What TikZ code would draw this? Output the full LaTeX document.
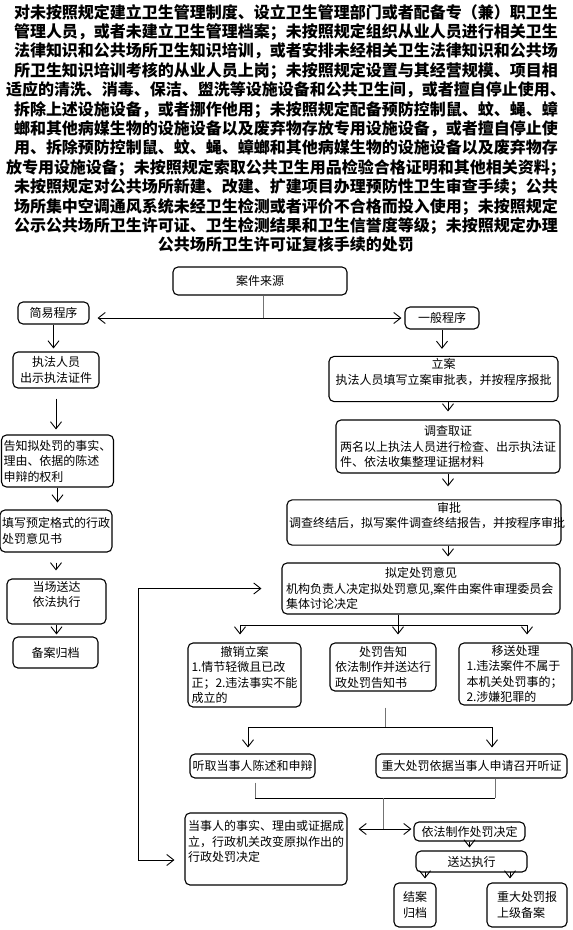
\documentclass[tikz,border=0pt]{standalone}
\usepackage{fontspec}
\usepackage{tikz}
\usetikzlibrary{arrows.meta}
\newfontfamily\cjk{Noto Sans CJK SC}
\newcommand{\ctrline}[1]{\makebox[\hsize][c]{#1}}

\begin{document}
\begin{tikzpicture}[
  x=1pt,y=-1pt,
  font=\cjk\fontsize{12}{15.5}\selectfont,
  >={Straight Barb[length=7pt,width=11pt]},
  box/.style={draw=black,line width=1.1pt,rounded corners=5pt,inner sep=2pt,align=left},
  lnk/.style={draw=black,line width=0.9pt},
  thinlnk/.style={draw=black!55,line width=0.7pt},
  ttl/.style={font=\cjk\bfseries\fontsize{16}{19.4}\selectfont,align=center,inner sep=0pt},
]
\useasboundingbox (0,0) rectangle (573,930);

\node[ttl,anchor=north] (title) at (286,4) {对未按照规定建立卫生管理制度、设立卫生管理部门或者配备专（兼）职卫生\\
管理人员，或者未建立卫生管理档案；未按照规定组织从业人员进行相关卫生\\
法律知识和公共场所卫生知识培训，或者安排未经相关卫生法律知识和公共场\\
所卫生知识培训考核的从业人员上岗；未按照规定设置与其经营规模、项目相\\
适应的清洗、消毒、保洁、盥洗等设施设备和公共卫生间，或者擅自停止使用、\\
拆除上述设施设备，或者挪作他用；未按照规定配备预防控制鼠、蚊、蝇、蟑\\
螂和其他病媒生物的设施设备以及废弃物存放专用设施设备，或者擅自停止使\\
用、拆除预防控制鼠、蚊、蝇、蟑螂和其他病媒生物的设施设备以及废弃物存\\
放专用设施设备；未按照规定索取公共卫生用品检验合格证明和其他相关资料；\\
未按照规定对公共场所新建、改建、扩建项目办理预防性卫生审查手续；公共\\
场所集中空调通风系统未经卫生检测或者评价不合格而投入使用；未按照规定\\
公示公共场所卫生许可证、卫生检测结果和卫生信誉度等级；未按照规定办理\\
公共场所卫生许可证复核手续的处罚};

\node[box,minimum width=174pt,minimum height=28pt,align=center] (src) at (260,281) {案件来源};
\node[box,minimum width=71pt,minimum height=22pt] (simple) at (53.5,313) {简易程序};
\node[box,minimum width=74pt,minimum height=22pt] (general) at (442,318) {一般程序};

\node[box,minimum width=86pt,minimum height=36pt,align=center] (show) at (56,370) {执法人员\\出示执法证件};
\node[box,minimum width=109pt,minimum height=52pt] (inform) at (57.5,461) {告知拟处罚的事实、\\理由、依据的陈述\\申辩的权利};
\node[box,minimum width=110pt,minimum height=42pt] (form) at (56,531) {填写预定格式的行政\\处罚意见书};
\node[box,minimum width=99pt,minimum height=43pt,align=center] (deliver) at (56.5,601.5) {当场送达\\依法执行\\\mbox{}};
\node[box,minimum width=85pt,minimum height=31pt] (filing) at (55.5,652.5) {备案归档};

\node[box,text width=216pt,minimum width=229pt,minimum height=42pt] (register) at (443.5,379) {\ctrline{立案}\\执法人员填写立案审批表，并按程序报批\\\mbox{}};
\node[box,text width=216pt,minimum width=224pt,minimum height=53pt] (survey) at (448,446.5) {\ctrline{调查取证}\\两名以上执法人员进行检查、出示执法证\\件、依法收集整理证据材料};
\node[box,text width=270pt,minimum width=274pt,minimum height=43pt] (approve) at (424,522.5) {\ctrline{\hspace{50pt}审批}\\调查终结后，拟写案件调查终结报告，并按程序审批\\\mbox{}};
\node[box,text width=270pt,minimum width=278pt,minimum height=51pt] (draft) at (421,588.5) {\ctrline{拟定处罚意见}\\机构负责人决定拟处罚意见,案件由案件审理委员会\\集体讨论决定};

\node[box,text width=106pt,minimum width=113pt,minimum height=64pt] (revoke) at (244.5,675) {\ctrline{撤销立案}\\1.情节轻微且已改\\正；2.违法事实不能\\成立的};
\node[box,text width=96pt,minimum width=106pt,minimum height=48pt] (notice) at (383,667) {\ctrline{处罚告知}\\依法制作并送达行\\政处罚告知书};
\node[box,text width=98pt,minimum width=113pt,minimum height=62pt] (transfer) at (515.5,674) {\ctrline{移送处理}\\1.违法案件不属于\\本机关处罚事的；\\2.涉嫌犯罪的};

\node[box,minimum width=125pt,minimum height=24pt] (hear) at (252.5,766) {听取当事人陈述和申辩};
\node[box,minimum width=191pt,minimum height=24pt] (hearing) at (471.5,766) {重大处罚依据当事人申请召开听证};
\node[box,minimum width=162pt,minimum height=72pt] (change) at (266,849) {当事人的事实、理由或证据成\\立，行政机关改变原拟作出的\\行政处罚决定\\\mbox{}};
\node[box,minimum width=111pt,minimum height=19pt] (decide) at (469.5,831.5) {依法制作处罚决定};
\node[box,minimum width=111pt,minimum height=21pt] (execute) at (471.5,861.5) {送达执行};
\node[box,minimum width=42pt,minimum height=44pt,align=center] (close) at (415,905) {结案\\归档};
\node[box,minimum width=80pt,minimum height=44pt] (report) at (527,905) {重大处罚报\\上级备案};

\coordinate (split) at (263,318);
\draw[thinlnk] (src.south -| split) -- (split);
\draw[lnk,->,shorten >=8pt] (split) -- (split -| simple.east);
\draw[lnk,->,shorten >=3pt] (split) -- (split -| general.west);

\draw[lnk,->,shorten >=3pt] (simple.south) -- (simple.south |- show.north);
\draw[lnk,->,shorten <=10pt,shorten >=5pt] (show.south) -- (show.south |- inform.north);
\draw[lnk,->,shorten >=7pt] (inform.south) -- (inform.south |- form.north);
\draw[lnk,->,shorten <=10pt,shorten >=8pt] (form.south) -- (form.south |- deliver.north);
\draw[lnk,->,shorten >=2pt] (deliver.south) -- (deliver.south |- filing.north);

\draw[lnk,->,shorten >=7pt] (general.south) -- (general.south |- register.north);
\draw[lnk,->,shorten >=8pt] (survey.north |- register.south) -- (survey.north);
\draw[lnk,->,shorten >=13pt] (survey.south) -- (survey.south |- approve.north);
\draw[lnk,->,shorten >=6pt] (survey.south |- approve.south) -- (survey.south |- draft.north);

\coordinate (fanL) at (240,625);
\coordinate (fanM) at (398,625);
\coordinate (fanR) at (527,625);
\draw[lnk] (fanL) -- (fanR);
\draw[lnk,->,shorten >=8pt] (fanM |- draft.south) -- (fanM |- notice.north);
\draw[lnk,->,shorten >=8pt] (fanL) -- (fanL |- revoke.north);
\draw[lnk,->,shorten >=8pt] (fanR) -- (fanR |- transfer.north);

\coordinate (forkL) at (248,727);
\coordinate (forkM) at (385,727);
\coordinate (forkR) at (492,727);
\draw[thinlnk,shorten <=16pt] (forkM |- notice.south) -- (forkM);
\draw[lnk] (forkL) -- (forkR);
\draw[lnk,->,shorten >=6pt] (forkL) -- (forkL |- hear.north);
\draw[lnk,->,shorten >=6pt] (forkR) -- (forkR |- hearing.north);

\coordinate (joinL) at (255,798);
\coordinate (joinM) at (383,798);
\coordinate (joinR) at (495,798);
\coordinate (both) at (383,829);
\draw[thinlnk,shorten <=4pt] (joinL |- hear.south) -- (joinL);
\draw[thinlnk] (joinR |- hearing.south) -- (joinR);
\draw[lnk] (joinL) -- (joinR);
\draw[thinlnk] (joinM) -- (both);
\draw[lnk,<->,shorten <=11pt,shorten >=2pt] (both -| change.east) -- (both -| decide.west);

\draw[lnk,->,shorten >=3pt] (decide.south) -- (decide.south |- execute.north);
\coordinate (toClose) at (425,872);
\coordinate (toReport) at (510,872);
\draw[lnk,->,shorten >=4pt] (toClose) -- (toClose |- close.north);
\draw[lnk,->,shorten >=4pt] (toReport) -- (toReport |- report.north);

\coordinate (loopB) at (138,860);
\draw[lnk,<->,shorten <=20pt,shorten >=10pt] (draft.west) -| (loopB) -- (loopB -| change.west);
\end{tikzpicture}
\end{document}
